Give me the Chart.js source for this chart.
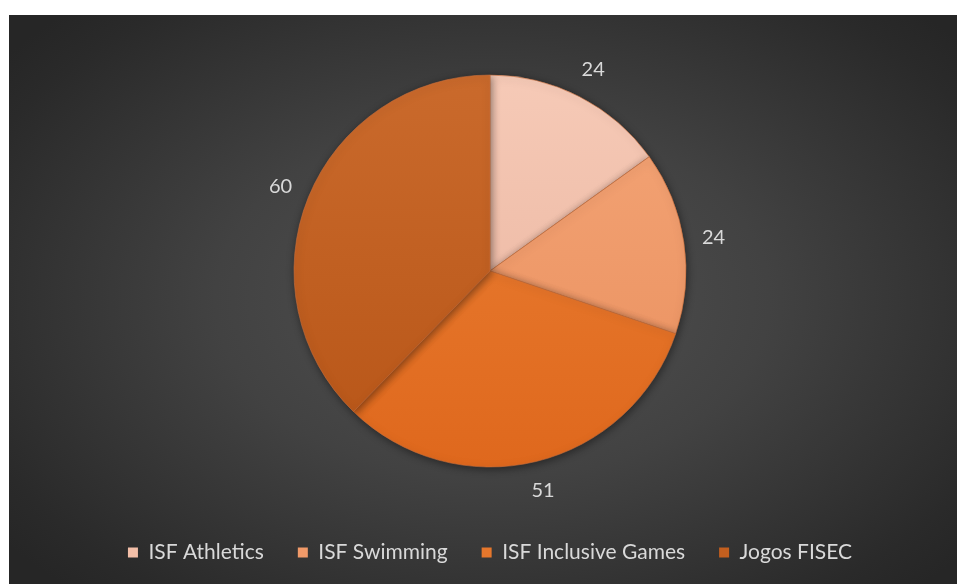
<!DOCTYPE html>
<html><head><meta charset="utf-8">
<script src="https://cdn.jsdelivr.net/npm/chart.js@4"></script>
<style>
html,body{margin:0;padding:0;background:#fff;width:957px;height:584px;overflow:hidden}
#wrap{position:absolute;left:9px;top:15px;width:948px;height:569px;background:radial-gradient(ellipse 65% 70% at 51% 50%, #525252 0%, #424242 45%, #2a2a2a 90%, #262626 100%)}
canvas{display:block}
</style></head><body>
<div id="wrap"><canvas id="c" width="948" height="569"></canvas></div>
<script>
const categories = ['ISF Athletics', 'ISF Swimming', 'ISF Inclusive Games', 'Jogos FISEC'];
const values = [24, 24, 51, 60];
const topColors = ['#f6cab7', '#f4a577', '#eb8136', '#ca6a2c'];
const bottomColors = ['#e8b19b', '#e98f5d', '#df681d', '#b75517'];
const legendColors = ['#f3bfa8', '#f19a69', '#e6772c', '#c35f1f'];

const PIE_R = 196;

const dataLabels = {
  id: 'dataLabels',
  afterDatasetsDraw(chart) {
    const ctx = chart.ctx;
    const meta = chart.getDatasetMeta(0);
    ctx.save();
    ctx.font = '20px Lato, "Open Sans", sans-serif';
    ctx.fillStyle = '#d9d9d9';
    ctx.textAlign = 'center';
    ctx.textBaseline = 'middle';
    meta.data.forEach((arc, i) => {
      const mid = (arc.startAngle + arc.endAngle) / 2;
      const r = arc.outerRadius + 30;
      ctx.fillText(String(values[i]), arc.x + Math.cos(mid) * r, arc.y + Math.sin(mid) * r);
    });
    ctx.restore();
  }
};

const shadow = {
  id: 'shadow',
  beforeDatasetsDraw(chart) {
    const ctx = chart.ctx;
    ctx.save();
    ctx.shadowColor = 'rgba(0,0,0,0.45)';
    ctx.shadowBlur = 8;
    ctx.shadowOffsetX = 1;
    ctx.shadowOffsetY = 2;
  },
  afterDatasetsDraw(chart) {
    chart.ctx.restore();
  }
};

function sliceFill(c) {
  const chart = c.chart;
  const area = chart.chartArea;
  const i = c.dataIndex;
  if (!area) return topColors[i];
  const cy = (area.top + area.bottom) / 2;
  const g = chart.ctx.createLinearGradient(0, cy - PIE_R, 0, cy + PIE_R);
  g.addColorStop(0, topColors[i]);
  g.addColorStop(1, bottomColors[i]);
  return g;
}

new Chart(document.getElementById('c'), {
  type: 'pie',
  data: {
    labels: categories,
    datasets: [{
      data: values,
      backgroundColor: sliceFill,
      borderColor: 'rgba(200,110,60,0.6)',
      borderWidth: 1,
      radius: PIE_R
    }]
  },
  options: {
    responsive: false,
    animation: false,
    devicePixelRatio: 1,
    layout: { padding: { left: 14, right: 0, top: 19, bottom: 11 } },
    plugins: {
      tooltip: { enabled: false },
      legend: {
        position: 'bottom',
        labels: {
          color: '#d9d9d9',
          font: { family: 'Lato, "Open Sans", sans-serif', size: 21 },
          boxWidth: 10,
          boxHeight: 10,
          padding: 34,
          generateLabels(chart) {
            return categories.map((t, i) => ({
              text: t, fillStyle: legendColors[i], strokeStyle: legendColors[i],
              lineWidth: 0, fontColor: '#d9d9d9', index: i, hidden: false
            }));
          }
        }
      }
    }
  },
  plugins: [shadow, dataLabels]
});
</script>
</body></html>
